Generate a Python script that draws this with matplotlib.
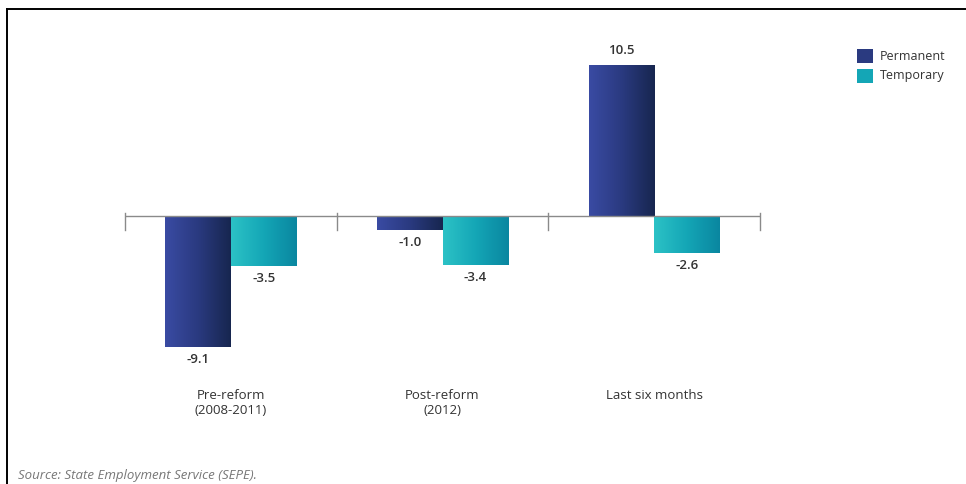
import matplotlib.pyplot as plt
import numpy as np
from matplotlib.lines import Line2D
from matplotlib.colors import LinearSegmentedColormap
from matplotlib.patches import Rectangle

plt.rcParams['font.family'] = ['Open Sans', 'DejaVu Sans']

categories = ['Pre-reform\n(2008-2011)', 'Post-reform\n(2012)', 'Last six months']
permanent = [-9.1, -1.0, 10.5]
temporary = [-3.5, -3.4, -2.6]
series = ['Permanent', 'Temporary']

W, H = 966, 484
fig = plt.figure(figsize=(W / 100, H / 100), dpi=100)

# axes placed in pixels: x 0..3 -> 125..760, zero line at y=216
y0_px, scale = 216, 14.4
ax_top, ax_bot = 40, 380
ax = fig.add_axes([125 / W, 1 - ax_bot / H, (760 - 125) / W, (ax_bot - ax_top) / H])
ax.set_xlim(0, 3)
ax.set_ylim(-(ax_bot - y0_px) / scale, (y0_px - ax_top) / scale)
ax.axis('off')

cmap_p = LinearSegmentedColormap.from_list('p', ['#3a4ba3', '#2a3a80', '#17264f'])
cmap_t = LinearSegmentedColormap.from_list('t', ['#2cc2c6', '#14a6b6', '#0a86a0'])

x = np.arange(len(categories)) + 0.5
bw = 0.31
bars_p = ax.bar(x - bw / 2, permanent, bw, color='#2a3a80', zorder=2)
bars_t = ax.bar(x + bw / 2, temporary, bw, color='#14a6b6', zorder=2)

grad = np.linspace(0, 1, 256).reshape(1, -1)
for bars, cm in [(bars_p, cmap_p), (bars_t, cmap_t)]:
    for b in bars:
        bx, by = b.get_x(), b.get_y()
        bwid, bh = b.get_width(), b.get_height()
        im = ax.imshow(grad, cmap=cm, aspect='auto', zorder=3,
                       extent=[bx, bx + bwid, min(by, by + bh), max(by, by + bh)])
        im.set_clip_path(b)

# zero axis line and group ticks
ax.axhline(0, color='#8a8a8a', lw=1.0, zorder=4)
for t in range(len(categories) + 1):
    ax.plot([t, t], [0.2, -0.95], color='#8a8a8a', lw=1.0, zorder=4, clip_on=False)

# value labels
for xi, v in zip(x - bw / 2, permanent):
    ax.annotate(f'{v:.1f}', (xi, v), xytext=(0, 10 if v > 0 else -9), textcoords='offset points',
                ha='center', va='center', fontsize=9.5, color='#333333', fontweight='semibold')
for xi, v in zip(x + bw / 2, temporary):
    ax.annotate(f'{v:.1f}', (xi, v), xytext=(0, -9), textcoords='offset points',
                ha='center', va='center', fontsize=9.5, color='#333333', fontweight='semibold')

# category labels
for xi, c in zip(x, categories):
    ax.text(xi, -(389 - y0_px) / scale, c, ha='center', va='top', fontsize=9.5,
            color='#333333', linespacing=1.25, clip_on=False)

# legend
for i, (name, col) in enumerate(zip(series, ['#2a3a80', '#14a6b6'])):
    ytop = 49 + i * 20
    fig.add_artist(Rectangle((857 / W, 1 - (ytop + 14) / H), 16 / W, 14 / H,
                             facecolor=col, edgecolor='none', transform=fig.transFigure))
    fig.text(880 / W, 1 - (ytop + 7) / H, name, ha='left', va='center', fontsize=9, color='#333333')

fig.text(18 / W, 1 - 475 / H, 'Source: State Employment Service (SEPE).', ha='left', va='center',
         fontsize=9.5, style='italic', color='#777777')

# frame lines on top and left
fig.add_artist(Line2D([7 / W, 1], [1 - 9 / H, 1 - 9 / H], color='black', lw=1.4))
fig.add_artist(Line2D([7 / W, 7 / W], [0, 1 - 9 / H], color='black', lw=1.4))

fig.savefig('out.png', dpi=100)
